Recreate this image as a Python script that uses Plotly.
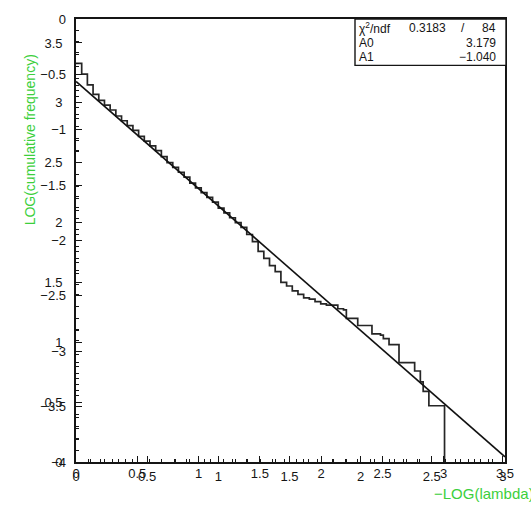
import plotly.graph_objects as go

# Cumulative-frequency histogram: step edges (in -LOG(lambda)) and bin contents
hist_edges = [0.00, 0.04, 0.08, 0.12, 0.16, 0.20, 0.24, 0.28, 0.32, 0.36, 0.40,
              0.44, 0.48, 0.52, 0.56, 0.60, 0.64, 0.68, 0.72, 0.76, 0.80,
              0.84, 0.88, 0.92, 0.96, 1.00, 1.04, 1.08, 1.12, 1.16, 1.20,
              1.24, 1.28, 1.32, 1.36, 1.40, 1.44, 1.48, 1.52, 1.56, 1.60,
              1.64, 1.68, 1.72, 1.76, 1.80, 1.84, 1.88, 1.90, 1.98, 2.08,
              2.14, 2.16, 2.20, 2.27, 2.38, 2.42, 2.44, 2.48, 2.59]
hist_vals = [3.33, 3.24, 3.15, 3.07, 3.02, 2.98, 2.94, 2.89, 2.85, 2.81,
             2.77, 2.72, 2.68, 2.64, 2.60, 2.55, 2.50, 2.46, 2.42, 2.38,
             2.33, 2.29, 2.25, 2.21, 2.17, 2.12, 2.08, 2.04, 2.00, 1.96,
             1.90, 1.84, 1.76, 1.70, 1.64, 1.59, 1.50, 1.47, 1.43, 1.40,
             1.37, 1.36, 1.34, 1.32, 1.31, 1.31, 1.28, 1.27, 1.20, 1.14,
             1.07, 1.06, 1.03, 0.98, 0.83, 0.76, 0.67, 0.59, 0.47]

# Straight-line fit parameters
fit_chi2 = "0.3183"
fit_ndf = "84"
A0 = 3.179
A1 = -1.040

# Axis ranges and tick values (two overlaid scales per axis)
x_range = [0.0, 3.015]
x2_range = [0.0, 3.5]
y_range = [0.0, 3.70]
y2_range = [-4.0, 0.0]
x_ticks = [0, 0.5, 1, 1.5, 2, 2.5, 3]
x2_ticks = [0, 0.5, 1, 1.5, 2, 2.5, 3, 3.5]
y_ticks = [0, 0.5, 1, 1.5, 2, 2.5, 3, 3.5]
y2_ticks = [-4, -3.5, -3, -2.5, -2, -1.5, -1, -0.5, 0]

GREEN = "#3ccf3c"
INK = "#151515"
FONT = "Liberation Sans"

fig = go.Figure()

# Histogram drawn as a step outline, closed down to zero at the last edge
step_x = list(hist_edges) + [hist_edges[-1]]
step_y = list(hist_vals) + [hist_vals[-1], 0.0]
fig.add_trace(go.Scatter(x=step_x, y=step_y, mode="lines", line_shape="hv",
                         line=dict(color="#262626", width=1.7),
                         showlegend=False, hoverinfo="skip"))

# Fitted line y = A0 + A1 * x across the frame
fx = [x_range[0], x_range[1]]
fy = [A0 + A1 * v for v in fx]
fig.add_trace(go.Scatter(x=fx, y=fy, mode="lines",
                         line=dict(color="#111111", width=1.6),
                         showlegend=False, hoverinfo="skip"))

# Empty trace so the second pair of axes is laid out
fig.add_trace(go.Scatter(x=[None], y=[None], xaxis="x2", yaxis="y2",
                         mode="lines", showlegend=False, hoverinfo="skip"))

tickfont = dict(family=FONT, size=13, color=INK)
minor_common = dict(ticks="inside", ticklen=3, tickcolor=INK, showgrid=False)

fig.update_layout(
    width=531, height=507,
    margin=dict(l=76, r=26, t=13, b=45),
    paper_bgcolor="white", plot_bgcolor="white",
    xaxis=dict(range=x_range, tickvals=x_ticks, ticks="inside", ticklen=6,
               tickcolor=INK, tickwidth=1.4, showgrid=False, zeroline=False,
               showline=True, mirror=True, linecolor=INK, linewidth=1.7,
               tickfont=tickfont, ticklabelstandoff=2,
               minor=dict(dtick=0.1, **minor_common)),
    xaxis2=dict(range=x2_range, tickvals=x2_ticks, overlaying="x", anchor="y",
                side="bottom", ticks="inside", ticklen=6, tickcolor=INK,
                tickwidth=1.4, showgrid=False, zeroline=False, showline=False,
                tickfont=tickfont, ticklabelstandoff=2,
                minor=dict(dtick=0.1, **minor_common)),
    yaxis=dict(range=y_range, tickvals=y_ticks, ticks="inside", ticklen=6,
               tickcolor=INK, tickwidth=1.4, showgrid=False, zeroline=False,
               showline=True, mirror=True, linecolor=INK, linewidth=1.7,
               tickfont=tickfont, ticklabelstandoff=9,
               minor=dict(dtick=0.1, **minor_common)),
    yaxis2=dict(range=y2_range, tickvals=y2_ticks, overlaying="y", anchor="x",
                side="left", ticks="inside", ticklen=6, tickcolor=INK,
                tickwidth=1.4, showgrid=False, zeroline=False, showline=False,
                tickfont=tickfont, ticklabelstandoff=9,
                minor=dict(dtick=0.1, **minor_common)),
)

# Axis titles
fig.add_annotation(text="LOG(cumulative frequency)", xref="paper", yref="paper",
                   x=(30 - 76) / 429, y=1 - (136 - 13) / 449, textangle=-90,
                   showarrow=False,
                   font=dict(family=FONT, size=14, color=GREEN),
                   xanchor="center", yanchor="middle")
fig.add_annotation(text="\u2212LOG(lambda)", xref="paper", yref="paper",
                   x=(432 - 76) / 429, y=1 - (494 - 13) / 449, showarrow=False,
                   font=dict(family=FONT, size=15, color=GREEN),
                   xanchor="left", yanchor="middle")

# Fit statistics box
box_x0, box_x1 = (355 - 76) / 429, (506 - 76) / 429
box_y0, box_y1 = 1 - (60 - 13) / 449, 1.0
fig.add_shape(type="rect", xref="paper", yref="paper",
              x0=box_x0, x1=box_x1, y0=box_y0, y1=box_y1,
              line=dict(color=INK, width=1.4), fillcolor="white", layer="above")

stat_font = dict(family=FONT, size=12, color=INK)
row_y = [1 - (22 - 13) / 449, 1 - (37 - 13) / 449, 1 - (52 - 13) / 449]
xl = (357 - 76) / 429
xr = (498 - 76) / 429


def stat(text, x, y, anchor):
    fig.add_annotation(text=text, x=x, y=y, xref="paper", yref="paper",
                       showarrow=False, xanchor=anchor, yanchor="middle",
                       font=stat_font)


stat("\u03c7<sup>2</sup>/ndf", xl, row_y[0], "left")
stat(fit_chi2, (448 - 76) / 429, row_y[0], "right")
stat("/", (463 - 76) / 429, row_y[0], "center")
stat(fit_ndf, xr, row_y[0], "right")
stat("A0", xl, row_y[1], "left")
stat(f"{A0:.3f}", xr, row_y[1], "right")
stat("A1", xl, row_y[2], "left")
stat(f"{A1:.3f}".replace("-", "\u2212"), xr, row_y[2], "right")

fig.write_html("out.html")
